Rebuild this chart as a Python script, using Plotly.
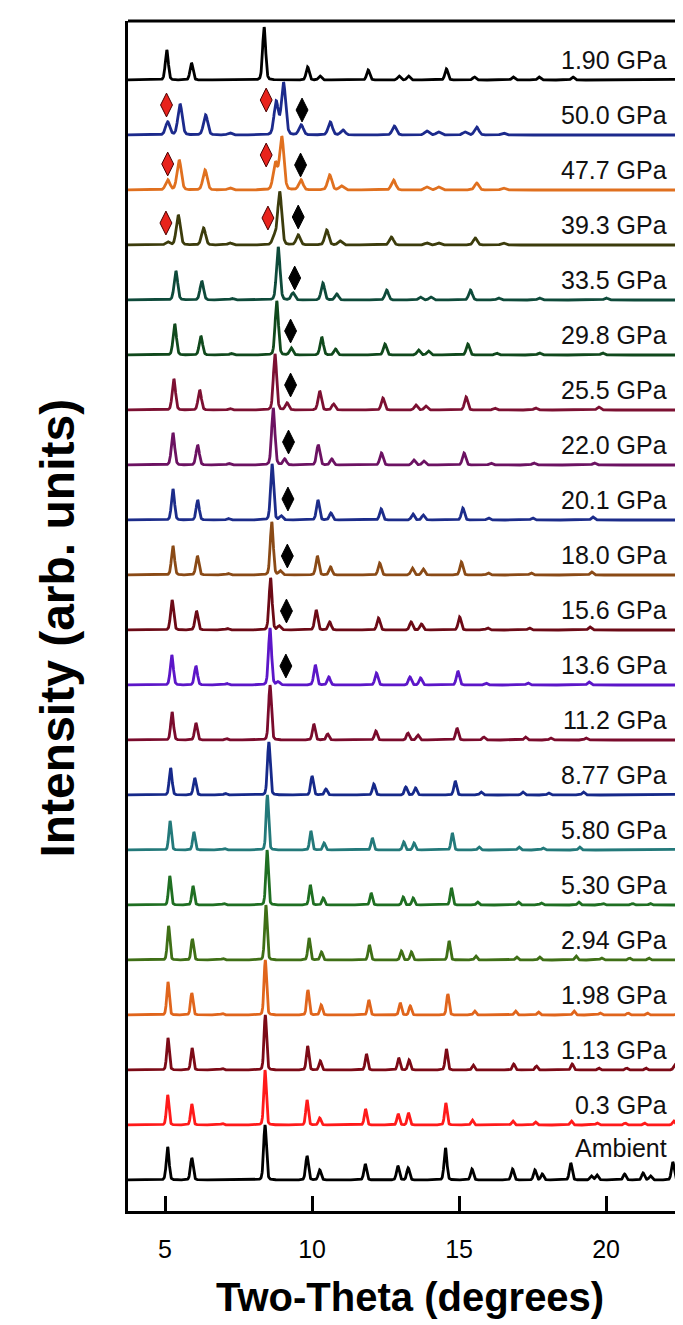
import numpy as np
import plotly.graph_objects as go

# ---------------- data ----------------
# pattern labels, bottom to top
labels = ["Ambient", "0.3 GPa", "1.13 GPa", "1.98 GPa", "2.94 GPa", "5.30 GPa",
          "5.80 GPa", "8.77 GPa", "11.2 GPa", "13.6 GPa", "15.6 GPa", "18.0 GPa",
          "20.1 GPa", "22.0 GPa", "25.5 GPa", "29.8 GPa", "33.5 GPa", "39.3 GPa",
          "47.7 GPa", "50.0 GPa", "1.90 GPa"]
colors = ["#000000", "#ff1a1a", "#7c0a16", "#e0651c", "#3f6f16", "#1f6f22",
          "#23797a", "#16298a", "#7a0b2c", "#5c16c8", "#6c0a16", "#8a4a16",
          "#1c2c8a", "#6c1262", "#7c1032", "#10491c", "#0e4a3a", "#3c3c0c",
          "#e0701f", "#1c2a8c", "#000000"]

# peak positions (deg) and heights (arb.) for each pattern
p_amb = [5.09, 5.91, 8.40, 9.83, 10.26, 11.81, 12.92, 13.27, 14.54, 15.44, 16.82, 17.58, 17.83, 18.80, 19.50, 19.69, 20.63, 21.26, 21.51, 22.27, 22.95]
h_amb = [33, 22, 55, 24, 10, 16, 14, 12, 32, 11, 11, 10, 6, 17, 4, 5, 6, 7, 4, 18, 10]
p_03 = [5.09, 5.91, 6.95, 8.40, 9.83, 10.26, 11.82, 12.93, 13.28, 14.55, 15.45, 16.83, 17.60, 18.82, 19.70, 20.65, 21.30, 22.30]
h_03 = [30, 21, 1.5, 55, 25, 7, 16, 11, 12, 22, 5, 4, 3, 4, 2, 2, 2, 4]
p_113 = [5.10, 5.92, 6.95, 8.41, 9.85, 10.28, 11.85, 12.95, 13.30, 14.57, 15.48, 16.86, 17.63, 18.85, 19.75, 20.70, 21.35, 22.33]
h_113 = [32, 22, 1.5, 55, 24, 9, 16, 12, 10, 21, 5, 6, 4, 6, 2, 2, 2, 5]
p_198 = [5.10, 5.91, 6.95, 8.41, 9.86, 10.31, 11.93, 13.00, 13.34, 14.62, 15.53, 16.92, 17.70, 18.91, 19.80, 20.75, 21.40, 22.48]
h_198 = [33, 22, 1.5, 55, 25, 10, 15, 12, 9, 21, 4, 4, 3, 4, 2, 2, 2, 4]
p_294 = [5.12, 5.93, 6.97, 8.43, 9.90, 10.32, 11.95, 13.04, 13.38, 14.66, 15.57, 16.96, 17.74, 18.98, 19.85, 20.80, 21.45, 22.52]
h_294 = [34, 21, 1.5, 55, 22, 8, 15, 9, 8, 19, 4, 3, 3, 4, 2, 2, 2, 4]
p_530 = [5.16, 5.95, 7.00, 8.47, 9.94, 10.38, 12.01, 13.10, 13.44, 14.74, 15.63, 17.02, 17.80, 19.07, 19.90, 20.90, 21.50, 22.65]
h_530 = [29, 19, 1.5, 55, 20, 7, 12, 8, 7, 17, 3, 3, 2, 3, 1.5, 1.5, 1.5, 3]
p_580 = [5.17, 5.98, 7.02, 8.48, 9.96, 10.41, 12.05, 13.12, 13.47, 14.77, 15.68, 17.04, 17.86, 19.10, 22.70]
h_580 = [29, 18, 1.5, 55, 19, 7, 12, 8, 7, 17, 3, 3, 2, 3, 3]
p_877 = [5.19, 6.01, 7.05, 8.53, 10.00, 10.47, 12.10, 13.19, 13.52, 14.87, 15.75, 17.17, 18.05, 19.23, 22.80]
h_877 = [27, 17, 1.5, 53, 19, 6, 11, 8, 7, 14, 3, 3, 2, 3, 2]
p_112 = [5.24, 6.05, 7.08, 8.57, 10.06, 10.53, 12.17, 13.26, 13.60, 14.93, 15.84, 17.26, 18.12, 19.32]
h_112 = [28, 17, 1.5, 55, 16, 6, 9, 7, 5, 12, 3, 3, 2, 2]
p_136 = [5.23, 6.05, 7.10, 8.57, 8.85, 10.11, 10.57, 12.19, 13.33, 13.69, 14.96, 15.91, 17.34, 19.42]
h_136 = [30, 19, 1.5, 57, 3, 20, 8, 12, 8, 7, 14, 2, 2, 3]
p_156 = [5.24, 6.07, 7.12, 8.59, 8.88, 10.14, 10.60, 12.26, 13.37, 13.72, 15.02, 15.97, 17.39, 19.45]
h_156 = [30, 19, 1.5, 52, 4, 20, 8, 12, 8, 6, 13, 2, 2, 3]
p_180 = [5.27, 6.10, 7.15, 8.63, 8.92, 10.18, 10.63, 12.30, 13.41, 13.78, 15.08, 15.99, 17.45, 19.51]
h_180 = [29, 19, 1.5, 53, 4, 19, 8, 12, 7, 6, 13, 2, 2, 3]
p_201 = [5.27, 6.11, 7.15, 8.64, 8.95, 10.20, 10.64, 12.35, 13.43, 13.78, 15.13, 16.00, 17.50, 19.55]
h_201 = [31, 20, 1.5, 56, 4, 20, 7, 11, 6, 5, 12, 2, 2, 3]
p_220 = [5.27, 6.11, 7.17, 8.68, 9.07, 10.21, 10.67, 12.36, 13.46, 13.80, 15.17, 16.08, 17.54, 19.60]
h_220 = [32, 20, 1.5, 57, 6, 20, 6, 12, 5, 4, 12, 2, 2, 2]
p_255 = [5.30, 6.18, 7.20, 8.74, 9.15, 10.26, 10.73, 12.41, 13.53, 13.87, 15.24, 16.21, 17.60, 19.75]
h_255 = [31, 20, 1.5, 56, 7, 19, 6, 12, 5, 4, 13, 2, 2, 3]
p_298 = [5.33, 6.22, 7.25, 8.80, 9.29, 10.33, 10.80, 12.48, 13.62, 13.96, 15.30, 16.27, 17.73, 19.88]
h_298 = [31, 19, 1.5, 54, 7, 18, 6, 11, 5, 4, 11, 2, 2, 2]
p_335 = [5.37, 6.25, 7.28, 8.85, 9.35, 10.37, 10.84, 12.54, 13.68, 14.04, 15.39, 16.34, 17.73, 20.00]
h_335 = [29, 19, 1.5, 53, 7, 17, 6, 10, 3, 3, 10, 2, 2, 2]
p_393 = [5.09, 5.45, 6.31, 7.20, 8.72, 8.90, 9.53, 10.50, 10.95, 12.70, 13.90, 14.30, 15.55, 16.50]
h_393 = [3, 30, 17, 2, 8, 53, 10, 15, 4, 8, 2, 2, 7, 2]
p_477 = [5.09, 5.48, 6.36, 7.20, 8.75, 8.97, 9.62, 10.60, 11.00, 12.77, 13.90, 14.30, 15.60, 16.50]
h_477 = [10, 30, 20, 2, 27, 53, 10, 15, 4, 10, 3, 3, 7, 2]
p_500 = [5.09, 5.51, 6.38, 7.20, 8.78, 9.03, 9.63, 10.62, 11.05, 12.80, 13.90, 14.30, 15.20, 15.60, 16.50]
h_500 = [13, 31, 20, 2, 33, 52, 10, 13, 5, 9, 4, 3, 3, 8, 2]
p_190 = [5.06, 5.90, 8.37, 9.85, 10.27, 11.91, 12.96, 13.28, 14.57, 15.52, 16.84, 17.72, 18.87, 22.47]
h_190 = [30, 17, 53, 13, 4, 10, 4, 4, 11, 3, 3, 3, 3, 2]

peak_pos = [p_amb, p_03, p_113, p_198, p_294, p_530, p_580, p_877, p_112, p_136, p_156,
            p_180, p_201, p_220, p_255, p_298, p_335, p_393, p_477, p_500, p_190]
peak_h = [h_amb, h_03, h_113, h_198, h_294, h_530, h_580, h_877, h_112, h_136, h_156,
          h_180, h_201, h_220, h_255, h_298, h_335, h_393, h_477, h_500, h_190]
# peak width (FWHM, deg) per pattern
widths = [0.11, 0.10, 0.10, 0.10, 0.10, 0.10, 0.10, 0.11, 0.11, 0.12, 0.12, 0.12,
          0.12, 0.13, 0.13, 0.13, 0.14, 0.16, 0.17, 0.17, 0.12]
offset_step = 55

# marker diamonds: (pattern index, position, height above baseline)
red_idx = [19, 19, 18, 18, 17, 17]
red_pos = [5.05, 8.44, 5.09, 8.44, 5.03, 8.50]
red_hgt = [30, 35, 26, 35, 22, 27]
blk_idx = [19, 18, 17, 16, 15, 14, 13, 12, 11, 10, 9]
blk_pos = [9.66, 9.61, 9.53, 9.41, 9.27, 9.27, 9.20, 9.18, 9.16, 9.13, 9.11]
blk_hgt = [25, 25, 28, 22, 24, 25, 23, 21, 19, 19, 19]

x_range = [3.74, 22.89]
x_ticks = [5, 10, 15, 20]

# ---------------- figure ----------------
grid = np.arange(3.70, 23.0, 0.01)


def profile(pos, hts, fwhm):
    y = np.zeros_like(grid)
    s = fwhm / 2.3548
    g = fwhm / 2.0
    for p, h in zip(pos, hts):
        gauss = np.exp(-0.5 * ((grid - p) / s) ** 2)
        lor = 1.0 / (1.0 + ((grid - p) / g) ** 2)
        y += h * (0.8 * gauss + 0.2 * lor)
    return y


fig = go.Figure()
for i, lab in enumerate(labels):
    off = i * offset_step
    fig.add_trace(go.Scatter(x=grid, y=profile(peak_pos[i], peak_h[i], widths[i]) + off,
                             mode="lines", line=dict(color=colors[i], width=2.8),
                             showlegend=False, hoverinfo="skip"))
    fig.add_annotation(x=22.13, y=off + (32 if lab == "Ambient" else 20), text=lab,
                       xref="x", yref="y", xanchor="right", yanchor="middle",
                       showarrow=False, font=dict(size=25, color="#111111",
                                                  family="Liberation Sans, Arial"))

fig.add_trace(go.Scatter(x=red_pos, y=[i * offset_step + h for i, h in zip(red_idx, red_hgt)],
                         mode="markers", showlegend=False, hoverinfo="skip",
                         marker=dict(symbol="diamond-tall", size=17, color="#e8231c",
                                     line=dict(color="#4a0000", width=1))))
fig.add_trace(go.Scatter(x=blk_pos, y=[i * offset_step + h for i, h in zip(blk_idx, blk_hgt)],
                         mode="markers", showlegend=False, hoverinfo="skip",
                         marker=dict(symbol="diamond-tall", size=17, color="#000000",
                                     line=dict(color="#000000", width=1))))

fig.add_annotation(x=0.5, y=-0.072, xref="paper", yref="paper", text="<b>Two-Theta (degrees)</b>",
                   showarrow=False, xanchor="center", yanchor="middle",
                   font=dict(size=40, color="#000000", family="Liberation Sans, Arial"))
fig.add_annotation(x=-0.125, y=0.49, xref="paper", yref="paper", text="<b>Intensity (arb. units)</b>",
                   showarrow=False, xanchor="center", yanchor="middle", textangle=-90,
                   font=dict(size=48, color="#000000", family="Liberation Sans, Arial"))
# top border
fig.add_shape(type="line", xref="paper", yref="paper", x0=0, x1=1, y0=1, y1=1,
              line=dict(color="#000000", width=2.8))

fig.update_layout(
    width=683, height=1325,
    margin=dict(l=120, r=0, t=13, b=122),
    plot_bgcolor="white", paper_bgcolor="white",
    font=dict(family="Liberation Sans, Arial", color="#000000"),
    xaxis=dict(range=x_range, tickvals=x_ticks, ticks="inside", ticklen=15, tickwidth=2.5,
               tickcolor="#000000", showline=True, linecolor="#000000", linewidth=2.8,
               showgrid=False, zeroline=False, tickfont=dict(size=25), ticklabelstandoff=14),
    yaxis=dict(range=[-31, 1159], showticklabels=False, ticks="", showline=True,
               linecolor="#000000", linewidth=2.8, showgrid=False, zeroline=False),
)

fig.write_html("out.html")
